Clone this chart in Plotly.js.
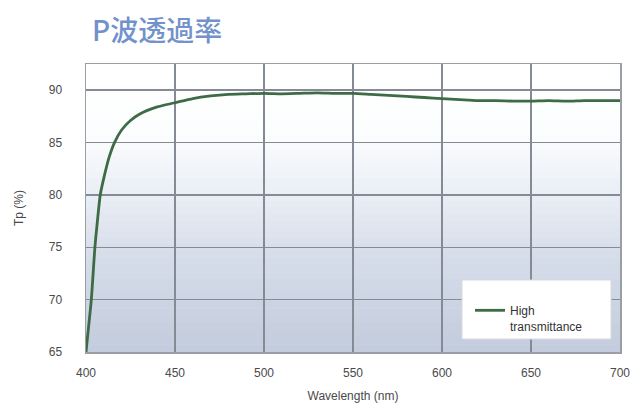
<!DOCTYPE html>
<html>
<head>
<meta charset="utf-8">
<script src="https://cdn.plot.ly/plotly-3.0.1.min.js"></script>
<style>html,body{margin:0;padding:0;background:#fff;}#chart{width:632px;height:414px;}</style>
</head>
<body>
<div id="chart"></div>
<script>
const wavelength = [400,402,403,404,405,406,408,410,413,416,420,425,430,440,450,460,470,480,490,500,510,520,530,540,550,560,570,580,590,600,610,620,630,640,650,660,670,680,690,700];
const tp = [65,68.3,70,72.5,75,76.8,80,81.6,83.6,85,86.2,87.1,87.7,88.4,88.8,89.2,89.45,89.6,89.65,89.7,89.65,89.7,89.75,89.7,89.7,89.6,89.5,89.4,89.3,89.2,89.1,89.0,89.0,88.95,88.95,89.0,88.95,89.0,89.0,89.0];
const xTicks = [400,450,500,550,600,650,700];
const yTicks = [65,70,75,80,85,90];
const seriesName = "High<br>transmittance";
const chartTitle = "P波透過率";

// background gradient bands (styling only)
const shapes = [];
const N = 40;
function lerp(a,b,t){return Math.round(a+(b-a)*t);}
const stops = [[0,[255,255,255]],[0.25,[252,253,254]],[0.45,[234,238,245]],[0.7,[212,219,232]],[1,[195,204,220]]];
function colAt(t){
  for(let i=0;i<stops.length-1;i++){
    const [t0,c0]=stops[i],[t1,c1]=stops[i+1];
    if(t>=t0&&t<=t1){const u=(t-t0)/(t1-t0);return `rgb(${lerp(c0[0],c1[0],u)},${lerp(c0[1],c1[1],u)},${lerp(c0[2],c1[2],u)})`;}
  }
  return 'rgb(195,204,220)';
}
for(let i=0;i<N;i++){
  const y1 = 1 - i/N, y0 = 1-(i+1)/N;
  shapes.push({type:'rect',xref:'x domain',yref:'y domain',x0:0,x1:1,y0:y0,y1:y1+0.002,
    fillcolor:colAt((i+0.5)/N),line:{width:0},layer:'below'});
}
// legend box (styling)
shapes.push({type:'rect',xref:'paper',yref:'paper',x0:(462-86)/534,x1:(611-86)/534,y0:(352-339)/288,y1:(352-280)/288,
  fillcolor:'#ffffff',line:{color:'#d6d9de',width:1},layer:'above'});

const trace = {
  x: wavelength, y: tp, type:'scatter', mode:'lines', name: seriesName,
  line:{color:'#3d6b45', width:2.8, shape:'spline', smoothing:0.6},
  showlegend:true
};

const axisFont = {family:'Liberation Sans, Arial, sans-serif', size:12, color:'#4a4a4a'};
const layout = {
  width:632, height:414,
  margin:{l:86, r:12, t:64, b:62},
  paper_bgcolor:'#ffffff', plot_bgcolor:'rgba(0,0,0,0)',
  title:{text:chartTitle, xref:'container', yref:'container', x:92/632, xanchor:'left', y:1-31/414, yanchor:'middle',
    font:{family:'Noto Sans CJK JP, sans-serif', size:28, weight:500, color:'#7392cb'}},
  xaxis:{range:[400,700], tickvals:xTicks, ticktext:xTicks.map(String), tickfont:axisFont,
    showgrid:true, gridcolor:'#858b94', gridwidth:1.5, zeroline:false,
    showline:true, linecolor:'#9a9fa6', linewidth:1.5, mirror:true, ticks:'', ticklen:0, ticklabelstandoff:9,
    title:{text:'Wavelength (nm)', font:axisFont, standoff:12}},
  yaxis:{range:[65,92.5], tickvals:yTicks, ticktext:yTicks.map(String), tickfont:axisFont,
    showgrid:true, gridcolor:'#858b94', gridwidth:1.5, zeroline:false,
    showline:true, linecolor:'#9a9fa6', linewidth:1.5, mirror:true, ticks:'', ticklen:0, ticklabelstandoff:20,
    title:{text:'Tp (%)', font:axisFont, standoff:22}},
  shapes: shapes,
  showlegend:true,
  legend:{x:(470-86)/534, xanchor:'left', y:(352-341)/288, yanchor:'bottom',
    bgcolor:'rgba(0,0,0,0)', borderwidth:0, valign:'top',
    font:{family:'Liberation Sans, Arial, sans-serif', size:12, color:'#333'},
    itemwidth:30, tracegroupgap:0}
};
Plotly.newPlot('chart',[trace],layout,{displayModeBar:false, staticPlot:true});
</script>
</body>
</html>
